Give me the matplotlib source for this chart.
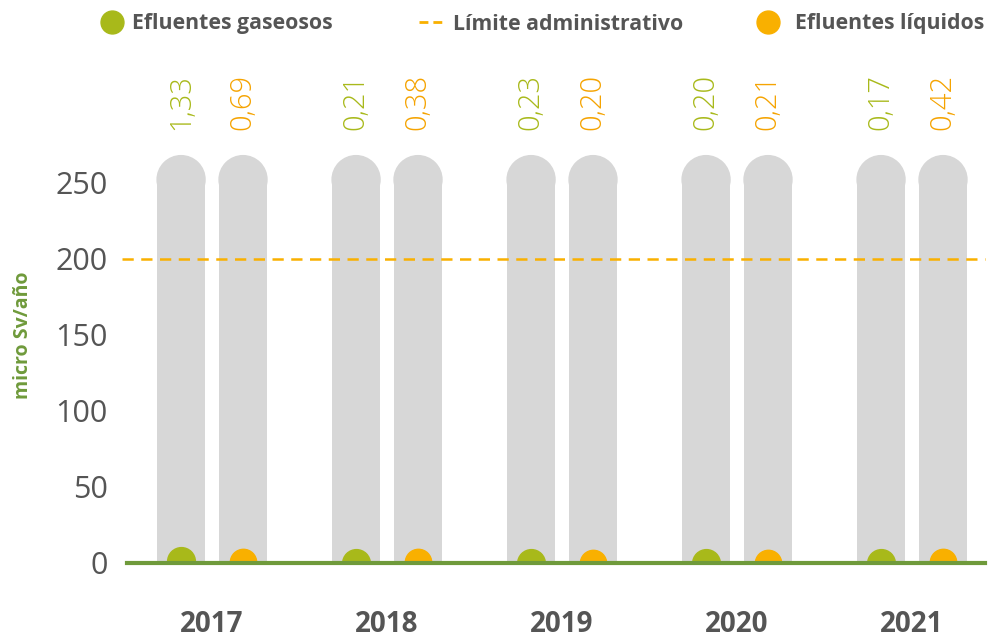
import matplotlib
matplotlib.use('Agg')
import matplotlib.pyplot as plt
from matplotlib.lines import Line2D
from matplotlib.patches import Ellipse
import numpy as np

# Data
years = ['2017', '2018', '2019', '2020', '2021']
gaseosos = [1.33, 0.21, 0.23, 0.20, 0.17]
liquidos = [0.69, 0.38, 0.20, 0.21, 0.42]
limite = 200
fondo = 268  # height of the grey background columns
y_ticks = [0, 50, 100, 150, 200, 250]

GREEN = '#a8b91a'
ORANGE = '#f9b000'
ORANGE_TXT = '#f5a300'
AXIS_GREEN = '#6f9a3b'
GREY_BAR = '#d7d7d7'
TEXT = '#555555'

plt.rcParams['font.family'] = ['Open Sans', 'DejaVu Sans']

fig = plt.figure(figsize=(9.89, 6.41), dpi=100)
ax = fig.add_axes([127 / 989, 1 - 563 / 641, (985 - 127) / 989, 456 / 641])
ax.set_xlim(-0.486, 4.417)
ax.set_ylim(0, 300)

x = np.arange(len(years))
off = 0.177
bw = 0.274

# grey rounded background columns
fig.canvas.draw()
bb = ax.get_window_extent()
cap_h = (bw / (4.417 + 0.486) * bb.width) / (bb.height / 300)
for xi in np.concatenate([x - off, x + off]):
    ax.bar(xi, fondo - cap_h / 2, width=bw, color=GREY_BAR, zorder=1)
    ax.add_patch(Ellipse((xi, fondo - cap_h / 2), bw, cap_h, color=GREY_BAR, zorder=1))

# limit line
ax.axhline(limite, color=ORANGE, lw=1.8, ls=(0, (4.5, 3)), zorder=2,
           xmin=-0.006, clip_on=False)

# markers
ax.plot(x - off, gaseosos, 'o', color=GREEN, ms=20, zorder=3)
ax.plot(x + off, liquidos, 'o', color=ORANGE, ms=19, zorder=3)

# value labels
for xi, v in zip(x - off, gaseosos):
    ax.text(xi, 285, f'{v:.2f}'.replace('.', ','), rotation=90, ha='center', va='bottom',
            color=GREEN, fontsize=21, fontweight='light', clip_on=False)
for xi, v in zip(x + off, liquidos):
    ax.text(xi, 285, f'{v:.2f}'.replace('.', ','), rotation=90, ha='center', va='bottom',
            color=ORANGE_TXT, fontsize=21, fontweight='light', clip_on=False)

# zero axis line
ax.axhline(0, color=AXIS_GREEN, lw=3, zorder=4, clip_on=False)

for s in ax.spines.values():
    s.set_visible(False)
ax.set_yticks(y_ticks)
ax.tick_params(axis='y', length=0, pad=14, labelsize=22, labelcolor=TEXT)
ax.set_xticks(x)
ax.set_xticklabels(years, fontsize=20, fontweight='bold', color=TEXT)
ax.tick_params(axis='x', length=0, pad=34)
ax.set_ylabel('micro Sv/año', color=AXIS_GREEN, fontsize=14, fontweight='bold')
ax.yaxis.set_label_coords(-0.11, 0.5)

# legend, placed by hand
ly = 1 - 21.5 / 641
fig.add_artist(Line2D([111.5 / 989], [ly], marker='o', ls='none', color=GREEN, ms=16.5,
                      transform=fig.transFigure))
fig.add_artist(Line2D([419 / 989, 442 / 989], [ly, ly], color=ORANGE, lw=2, ls=(0, (3.2, 1.8)),
                      transform=fig.transFigure))
fig.add_artist(Line2D([768 / 989], [ly], marker='o', ls='none', color=ORANGE, ms=16.5,
                      transform=fig.transFigure))
labels = ['Efluentes gaseosos', 'Límite administrativo', 'Efluentes líquidos']
for lx, lab in zip([132, 453, 795], labels):
    fig.text(lx / 989, ly, lab, ha='left', va='center_baseline', fontsize=15.3,
             fontweight='bold', color=TEXT)

fig.savefig('out.png', dpi=100)
